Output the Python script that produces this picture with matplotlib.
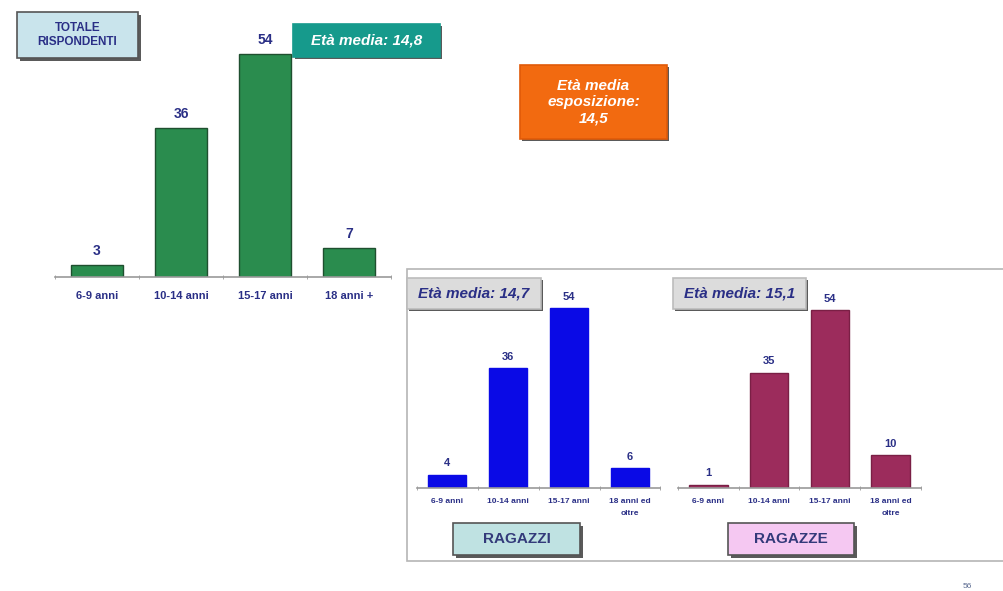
import matplotlib
matplotlib.use("Agg")
import matplotlib.pyplot as plt
from matplotlib.patches import Rectangle

plt.rcParams['font.family'] = ['Liberation Sans', 'DejaVu Sans']

# dati
fasce_tot = ["6-9 anni", "10-14 anni", "15-17 anni", "18 anni +"]
val_tot = [3, 36, 54, 7]
fasce_sex = ["6-9 anni", "10-14 anni", "15-17 anni", "18 anni ed\noltre"]
val_ragazzi = [4, 36, 54, 6]
val_ragazze = [1, 35, 54, 10]

W, H = 1004, 591
NAVY = "#2a2f86"

fig = plt.figure(figsize=(W / 100, H / 100), dpi=100)
fig.patch.set_facecolor("white")


def asse(x0, x1, ybase, ytop):
    # rettangolo in pixel (origine in alto a sinistra) -> frazioni della figura
    return fig.add_axes([x0 / W, (H - ybase) / H, (x1 - x0) / W, (ybase - ytop) / H])


def grafico(ax, etichette, valori, colore, bordo, fs_tick, fs_val, pad, off):
    x = range(len(valori))
    ax.bar(x, valori, width=0.63, color=colore, edgecolor=bordo, linewidth=1.0, zorder=2)
    ax.set_xlim(-0.5, len(valori) - 0.5)
    ax.set_ylim(0, 60)
    for s in ["top", "right", "left"]:
        ax.spines[s].set_visible(False)
    ax.spines["bottom"].set_color("#9a9a9a")
    ax.spines["bottom"].set_linewidth(1.2)
    ax.set_yticks([])
    ax.set_xticks(list(x))
    ax.set_xticklabels(etichette, fontsize=fs_tick, color=NAVY, fontweight="bold", linespacing=2.0)
    ax.tick_params(axis="x", which="major", length=0, pad=pad)
    ax.set_xticks([i - 0.5 for i in range(len(valori) + 1)], minor=True)
    ax.tick_params(axis="x", which="minor", length=3, direction="inout", color="#9a9a9a")
    ax.patch.set_alpha(0)
    for i, v in zip(x, valori):
        ax.annotate(str(v), (i, v), xytext=(0, off), textcoords="offset points",
                    ha="center", va="bottom", fontsize=fs_val, fontweight="bold", color=NAVY)


# overlay per riquadri e cornici (coordinate in pixel)
ov = fig.add_axes([0, 0, 1, 1])
ov.set_xlim(0, W)
ov.set_ylim(H, 0)
ov.axis("off")
ov.set_zorder(0)


def riquadro(x0, y0, x1, y1, fondo, testo, col_testo, fs, italic=True, ombra=3, bordo="#8a8a8a"):
    if ombra:
        ov.add_patch(Rectangle((x0 + ombra, y0 + ombra), x1 - x0, y1 - y0,
                               facecolor="#5a5a5a", edgecolor="none", zorder=3))
    ov.add_patch(Rectangle((x0, y0), x1 - x0, y1 - y0, facecolor=fondo,
                           edgecolor=bordo, linewidth=1.2, zorder=4))
    ov.text((x0 + x1) / 2, (y0 + y1) / 2, testo, ha="center", va="center", fontsize=fs,
            color=col_testo, fontweight="bold", style="italic" if italic else "normal",
            linespacing=1.2, zorder=5)


# cornice pannello inferiore
ov.add_patch(Rectangle((407, 269), 620, 292, facecolor="white", edgecolor="#b5b5b5",
                       linewidth=1.2, zorder=1))

# grafico totale
ax1 = asse(55, 391, 277, 29)
grafico(ax1, fasce_tot, val_tot, "#2a8c4e", "#1f4f2f", 8, 10, 10, 5)

# ragazzi / ragazze
ax2 = asse(416.5, 660.5, 488, 288)
grafico(ax2, fasce_sex, val_ragazzi, "#0a0ae6", "#0a0ae6", 6, 8, 7, 4.5)
ax3 = asse(678, 921, 488, 290)
grafico(ax3, fasce_sex, val_ragazze, "#9c2c5c", "#7a1f45", 6, 8, 7, 4.5)
for a in (ax1, ax2, ax3):
    a.set_zorder(2)

riquadro(17, 12, 138, 58, "#c9e4ec", "TOTALE\nRISPONDENTI", NAVY, 8.5, italic=False, bordo="#555555")
riquadro(293, 24, 440, 57, "#169a8c", "Età media: 14,8", "white", 11, ombra=2, bordo="#169a8c")
riquadro(520, 65, 667, 139, "#f26a10", "Età media\nesposizione:\n14,5", "white", 11, ombra=2, bordo="#e05a08")
riquadro(407, 278, 541, 309, "#dcdcdc", "Età media: 14,7", NAVY, 11, ombra=2, bordo="#bcbcbc")
riquadro(673, 278, 806, 309, "#dcdcdc", "Età media: 15,1", NAVY, 11, ombra=2, bordo="#bcbcbc")
riquadro(453, 523, 580, 555, "#bfe2e2", "RAGAZZI", "#333a7a", 11, italic=False, bordo="#555555")
riquadro(728, 523, 854, 555, "#f5c8f2", "RAGAZZE", "#333a7a", 11, italic=False, bordo="#555555")

ov.text(967, 587, "56", ha="center", va="center", fontsize=6, color="#5a6a90")

fig.savefig("out.png", dpi=100, facecolor="white")
